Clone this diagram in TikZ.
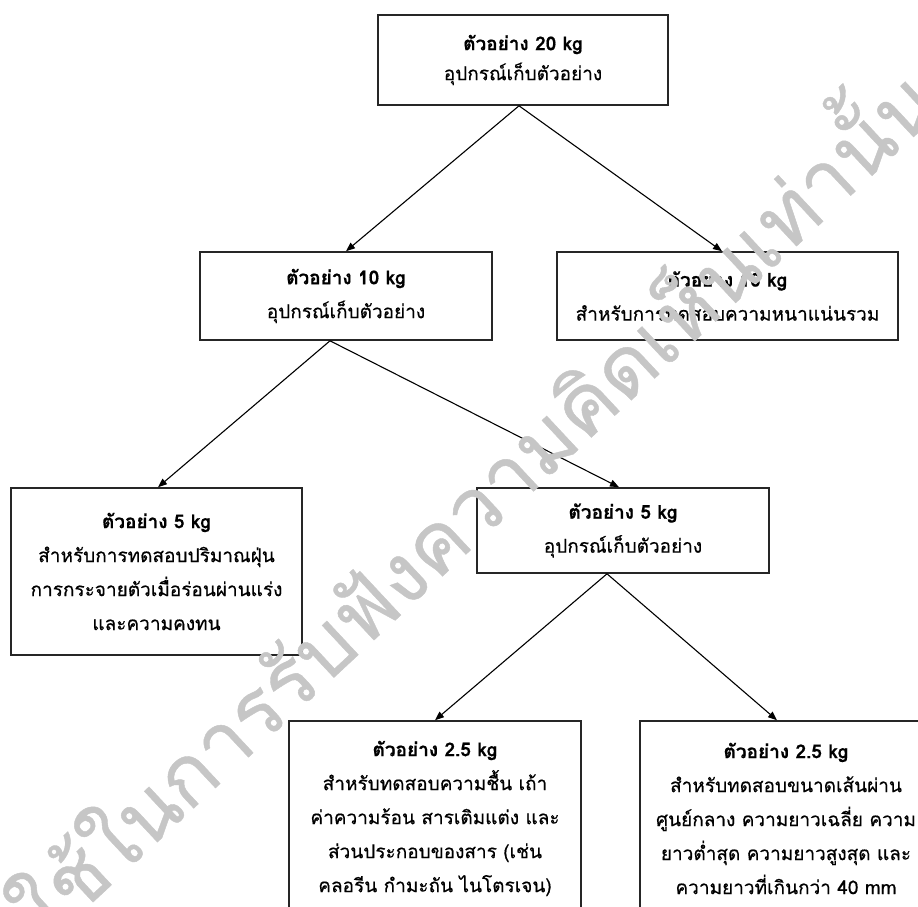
\documentclass[tikz,border=0pt]{standalone}
\usepackage{fontspec}
\setmainfont[Script=Thai, UprightFeatures={FakeBold=0.5}, BoldFeatures={FakeBold=0.6}]{Loma}
\usetikzlibrary{arrows.meta}
\begin{document}
\begin{tikzpicture}[x=1pt,y=-1pt,
  box/.style={draw=black!85, line width=1.6pt, rectangle, fill=white, align=center, inner sep=0pt,
    font=\fontsize{19}{34}\selectfont},
  link/.style={line width=1.1pt, -{Triangle[length=9pt,width=7pt]}},
  wmark/.style={text=gray!45, font=\fontsize{83}{90}\selectfont, inner sep=0pt}
]
\clip (0,0) rectangle (918,906);
\fill[white] (0,0) rectangle (918,906);

\node[box, minimum width=290pt, minimum height=90pt, font=\fontsize{19}{30}\selectfont] (a) at (523,60)
  {{\bfseries ตัวอย่าง 20 kg}\\อุปกรณ์เก็บตัวอย่าง};
\node[box, minimum width=292pt, minimum height=88pt] (b) at (346,296)
  {{\bfseries ตัวอย่าง 10 kg}\\อุปกรณ์เก็บตัวอย่าง};
\node[box, minimum width=341pt, minimum height=88pt] (c) at (727.5,296)
  {{\bfseries ตัวอย่าง 10 kg}\\สำหรับการทดสอบความหนาแน่นรวม};
\node[box, minimum width=291pt, minimum height=167pt] (d) at (156.5,571.5)
  {{\bfseries ตัวอย่าง 5 kg}\\สำหรับการทดสอบปริมาณฝุ่น\\การกระจายตัวเมื่อร่อนผ่านแร่ง\\และความคงทน};
\node[box, minimum width=292pt, minimum height=85pt] (e) at (623,530.5)
  {{\bfseries ตัวอย่าง 5 kg}\\อุปกรณ์เก็บตัวอย่าง};
\node[box, minimum width=292pt, minimum height=195pt] (f) at (435,818.5)
  {{\bfseries ตัวอย่าง 2.5 kg}\\สำหรับทดสอบความชื้น เถ้า\\ค่าความร้อน สารเติมแต่ง และ\\ส่วนประกอบของสาร (เช่น\\คลอรีน กำมะถัน ไนโตรเจน)};
\node[box, minimum width=292pt, minimum height=195pt] (g) at (786,818.5)
  {{\bfseries ตัวอย่าง 2.5 kg}\\สำหรับทดสอบขนาดเส้นผ่าน\\ศูนย์กลาง ความยาวเฉลี่ย ความ\\ยาวต่ำสุด ความยาวสูงสุด และ\\ความยาวที่เกินกว่า 40 mm};

\draw[link] ([xshift=-4pt]a.south) -- (b.north);
\draw[link] ([xshift=-4pt]a.south) -- ([xshift=-5.5pt]c.north);
\draw[link] ([xshift=-16pt]b.south) -- ([xshift=1.5pt]d.north);
\draw[link] ([xshift=-16pt]b.south) -- ([xshift=-4pt]e.north);
\draw[link] ([xshift=-16pt]e.south) -- (f.north);
\draw[link] ([xshift=-16pt]e.south) -- ([xshift=-9pt]g.north);

\node[wmark, anchor=base west, rotate=43] (wm) at (46,946) {ใช้ในการรับฟังความคิดเห็นเท่านั้น};
\end{tikzpicture}
\end{document}
